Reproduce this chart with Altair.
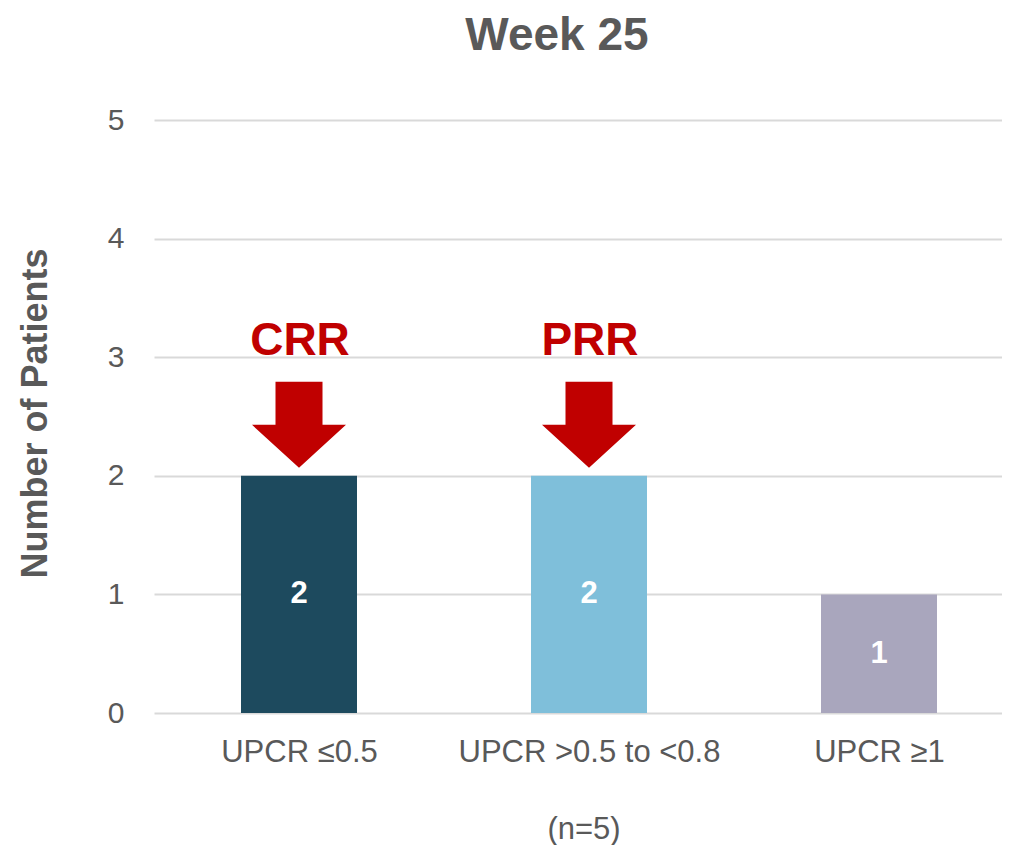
import json
import altair as alt
import pandas as pd

# ---- data ----
categories = ["UPCR ≤0.5", "UPCR >0.5 to <0.8", "UPCR ≥1"]
patients = [2, 2, 1]
bar_colors = ["#1d4a5e", "#7fbfda", "#a9a6bd"]
arrow_categories = ["UPCR ≤0.5", "UPCR >0.5 to <0.8"]
arrow_labels = ["CRR", "PRR"]
y_ticks = [0, 1, 2, 3, 4, 5]
chart_title = "Week 25"
y_title = "Number of Patients"
x_title = "(n=5)"

FONT = "Liberation Sans"
GRAY = "#595959"
RED = "#c00000"
GRID = "#d9d9d9"

df = pd.DataFrame({"category": categories, "patients": patients, "color": bar_colors})
df["idx"] = [categories.index(c) for c in df["category"]]
df["mid"] = df["patients"] / 2

# annotation positions (data units)
ARROW_CENTER_Y = 2.43
LABEL_Y = 3.0
arr = pd.DataFrame({"category": arrow_categories, "label": arrow_labels})
arr["idx"] = [categories.index(c) for c in arr["category"]]
arr["ay"] = ARROW_CENTER_Y
arr["ly"] = LABEL_Y

title_df = pd.DataFrame({"t": [chart_title]})

# plot is 848 px wide; each category slot is 290 px (right part runs off the page)
PLOT_W = 848
STEP = 290
x_domain = [-0.5, -0.5 + PLOT_W / STEP]
label_expr = json.dumps(categories, ensure_ascii=False) + "[datum.value]"

x_enc = alt.X(
    "idx:Q",
    scale=alt.Scale(domain=x_domain, nice=False, zero=False, padding=0),
    axis=alt.Axis(
        title=x_title, values=list(range(len(categories))), labelExpr=label_expr,
        labelFont=FONT, labelFontSize=31, labelColor=GRAY, labelPadding=24, labelLimit=0,
        labelAngle=0, ticks=False, domain=False, grid=False, labelFlush=False, labelOverlap=False,
        titleFont=FONT, titleFontSize=31, titleFontWeight="normal", titleColor=GRAY,
        titleX=429.5, titleY=125, titleBaseline="alphabetic", titleAlign="center",
    ),
)

y_axis = alt.Axis(
    values=y_ticks, format="d", title=y_title, grid=True, gridColor=GRID, gridWidth=2,
    domain=False, ticks=False, labelPadding=30,
    labelFont=FONT, labelFontSize=30, labelColor=GRAY,
    titleFont=FONT, titleFontSize=36, titleFontWeight="bold", titleColor=GRAY,
    titleAngle=-90, titleX=-108, titleY=293, titleBaseline="alphabetic", titleAlign="center",
)

bars = alt.Chart(df).mark_bar(width=116).encode(
    x=x_enc,
    y=alt.Y("patients:Q", scale=alt.Scale(domain=[0, 5]), axis=y_axis),
    color=alt.Color("color:N", scale=None),
)

bar_text = alt.Chart(df).mark_text(
    font=FONT, fontSize=31, fontWeight="bold", color="white", baseline="middle"
).encode(
    x=alt.X("idx:Q", title=x_title),
    y=alt.Y("mid:Q", title=y_title),
    text="patients:Q",
)

arrow_path = "M -0.5 -0.915 L 0.5 -0.915 L 0.5 0 L 1 0 L 0 0.915 L -1 0 L -0.5 0 Z"
arrows = alt.Chart(arr).mark_point(
    shape=arrow_path, size=8836, filled=True, color=RED, opacity=1, strokeWidth=0
).encode(
    x=alt.X("idx:Q", title=x_title),
    y=alt.Y("ay:Q", title=y_title),
)

arrow_text = alt.Chart(arr).mark_text(
    font=FONT, fontSize=46, fontWeight="bold", color=RED, baseline="alphabetic", dy=-2, dx=1
).encode(
    x=alt.X("idx:Q", title=x_title),
    y=alt.Y("ly:Q", title=y_title),
    text="label:N",
)

title_text = alt.Chart(title_df).mark_text(
    font=FONT, fontSize=46, fontWeight="bold", color=GRAY, baseline="alphabetic", align="center"
).encode(
    x=alt.value(403),
    y=alt.value(-70),
    text="t:N",
)

chart = alt.layer(bars, bar_text, arrows, arrow_text, title_text).properties(
    width=PLOT_W,
    height=593,
    autosize=alt.AutoSizeParams(type="none"),
    padding={"left": 146, "top": 112, "right": 0, "bottom": 132},
    background="white",
).configure_view(stroke=None)

chart.save("out.html", embed_options={"renderer": "svg", "actions": False})
